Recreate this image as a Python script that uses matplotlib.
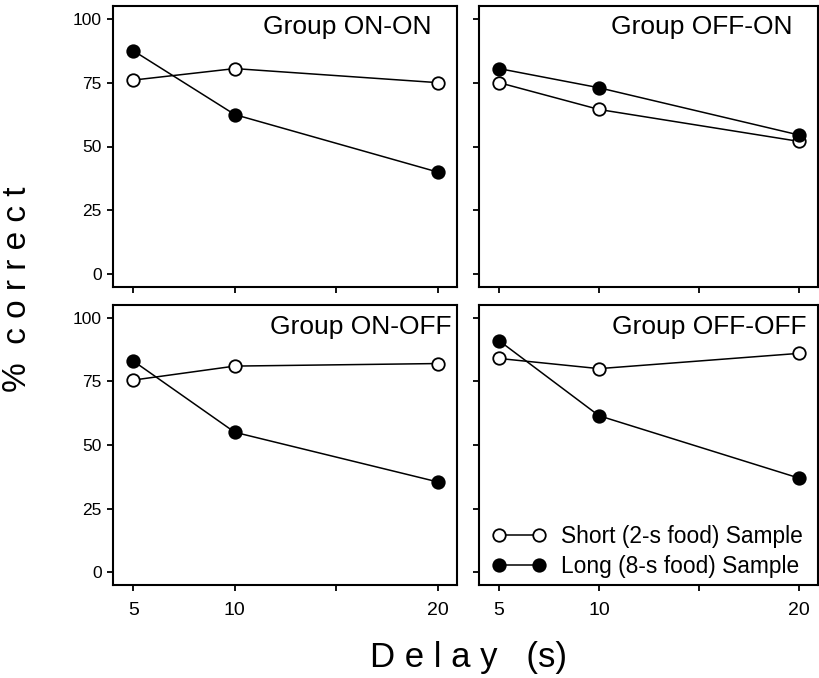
import matplotlib
matplotlib.use("Agg")
from matplotlib import pyplot as plt

plt.rcParams["font.family"] = ["Liberation Sans", "DejaVu Sans"]

# delay in seconds
delays = [5, 10, 20]
groups = ["Group ON-ON", "Group OFF-ON", "Group ON-OFF", "Group OFF-OFF"]

# % correct
short_on_on = [76, 80.5, 75]
long_on_on = [87.5, 62.5, 40]
short_off_on = [75, 64.5, 52]
long_off_on = [80.5, 73, 54.5]
short_on_off = [75.5, 81, 82]
long_on_off = [83, 55, 35.5]
short_off_off = [84, 80, 86]
long_off_off = [91, 61.5, 37]

short_all = [short_on_on, short_off_on, short_on_off, short_off_off]
long_all = [long_on_on, long_off_on, long_on_off, long_off_off]

x_ticks = [5, 10, 15, 20]
x_ticklabels = ["5", "10", "", "20"]
y_ticks = [0, 25, 50, 75, 100]

W, H = 820, 678
fig = plt.figure(figsize=(W / 100, H / 100), dpi=100)

# panel boxes in pixels: left, top, right, bottom
boxes = [
    (113, 6, 457, 287),
    (479, 6, 818, 287),
    (113, 305, 457, 585),
    (479, 305, 818, 585),
]
title_pos = [(0.927, 0.925), (0.926, 0.925), (0.985, 0.92), (0.967, 0.92)]

for i, (l, t, r, b) in enumerate(boxes):
    ax = fig.add_axes([l / W, (H - b) / H, (r - l) / W, (b - t) / H])
    ax.plot(delays, short_all[i], "-o", color="black", mfc="white", mec="black",
            ms=9, mew=1.3, lw=1.1, label="Short (2-s food) Sample", zorder=3)
    ax.plot(delays, long_all[i], "-o", color="black", mfc="black", mec="black",
            ms=9, mew=1.3, lw=1.1, label="Long (8-s food) Sample", zorder=3)
    ax.set_xlim(4.0, 20.95)
    ax.set_ylim(-5, 105)
    ax.set_xticks(x_ticks)
    ax.set_yticks(y_ticks)
    for s in ax.spines.values():
        s.set_linewidth(1.5)
    ax.tick_params(direction="out", length=4, width=1.3, labelsize=12.5, pad=4)
    ax.tick_params(axis="x", labelsize=14, pad=8)
    if i >= 2:
        ax.set_xticklabels(x_ticklabels)
    else:
        ax.set_xticklabels([])
    if i % 2 == 1:
        ax.set_yticklabels([])
    tx, ty = title_pos[i]
    ax.text(tx, ty, groups[i], transform=ax.transAxes, ha="right", va="center",
            fontsize=19)
    if i == 3:
        ax.legend(loc="lower left", frameon=False, numpoints=2, fontsize=16.4,
                  handlelength=2.35, handletextpad=0.65, borderaxespad=0.0,
                  borderpad=0.3, labelspacing=0.3, bbox_to_anchor=(0.02, 0.0))

fig.text(18 / W, 1 - 289 / H, "%  c o r r e c t", rotation=90, ha="center",
         va="center", fontsize=24)
fig.text(469 / W, 1 - 658 / H, "D e l a y   (s)", ha="center", va="center",
         fontsize=25)

fig.savefig("out.png", dpi=100)
